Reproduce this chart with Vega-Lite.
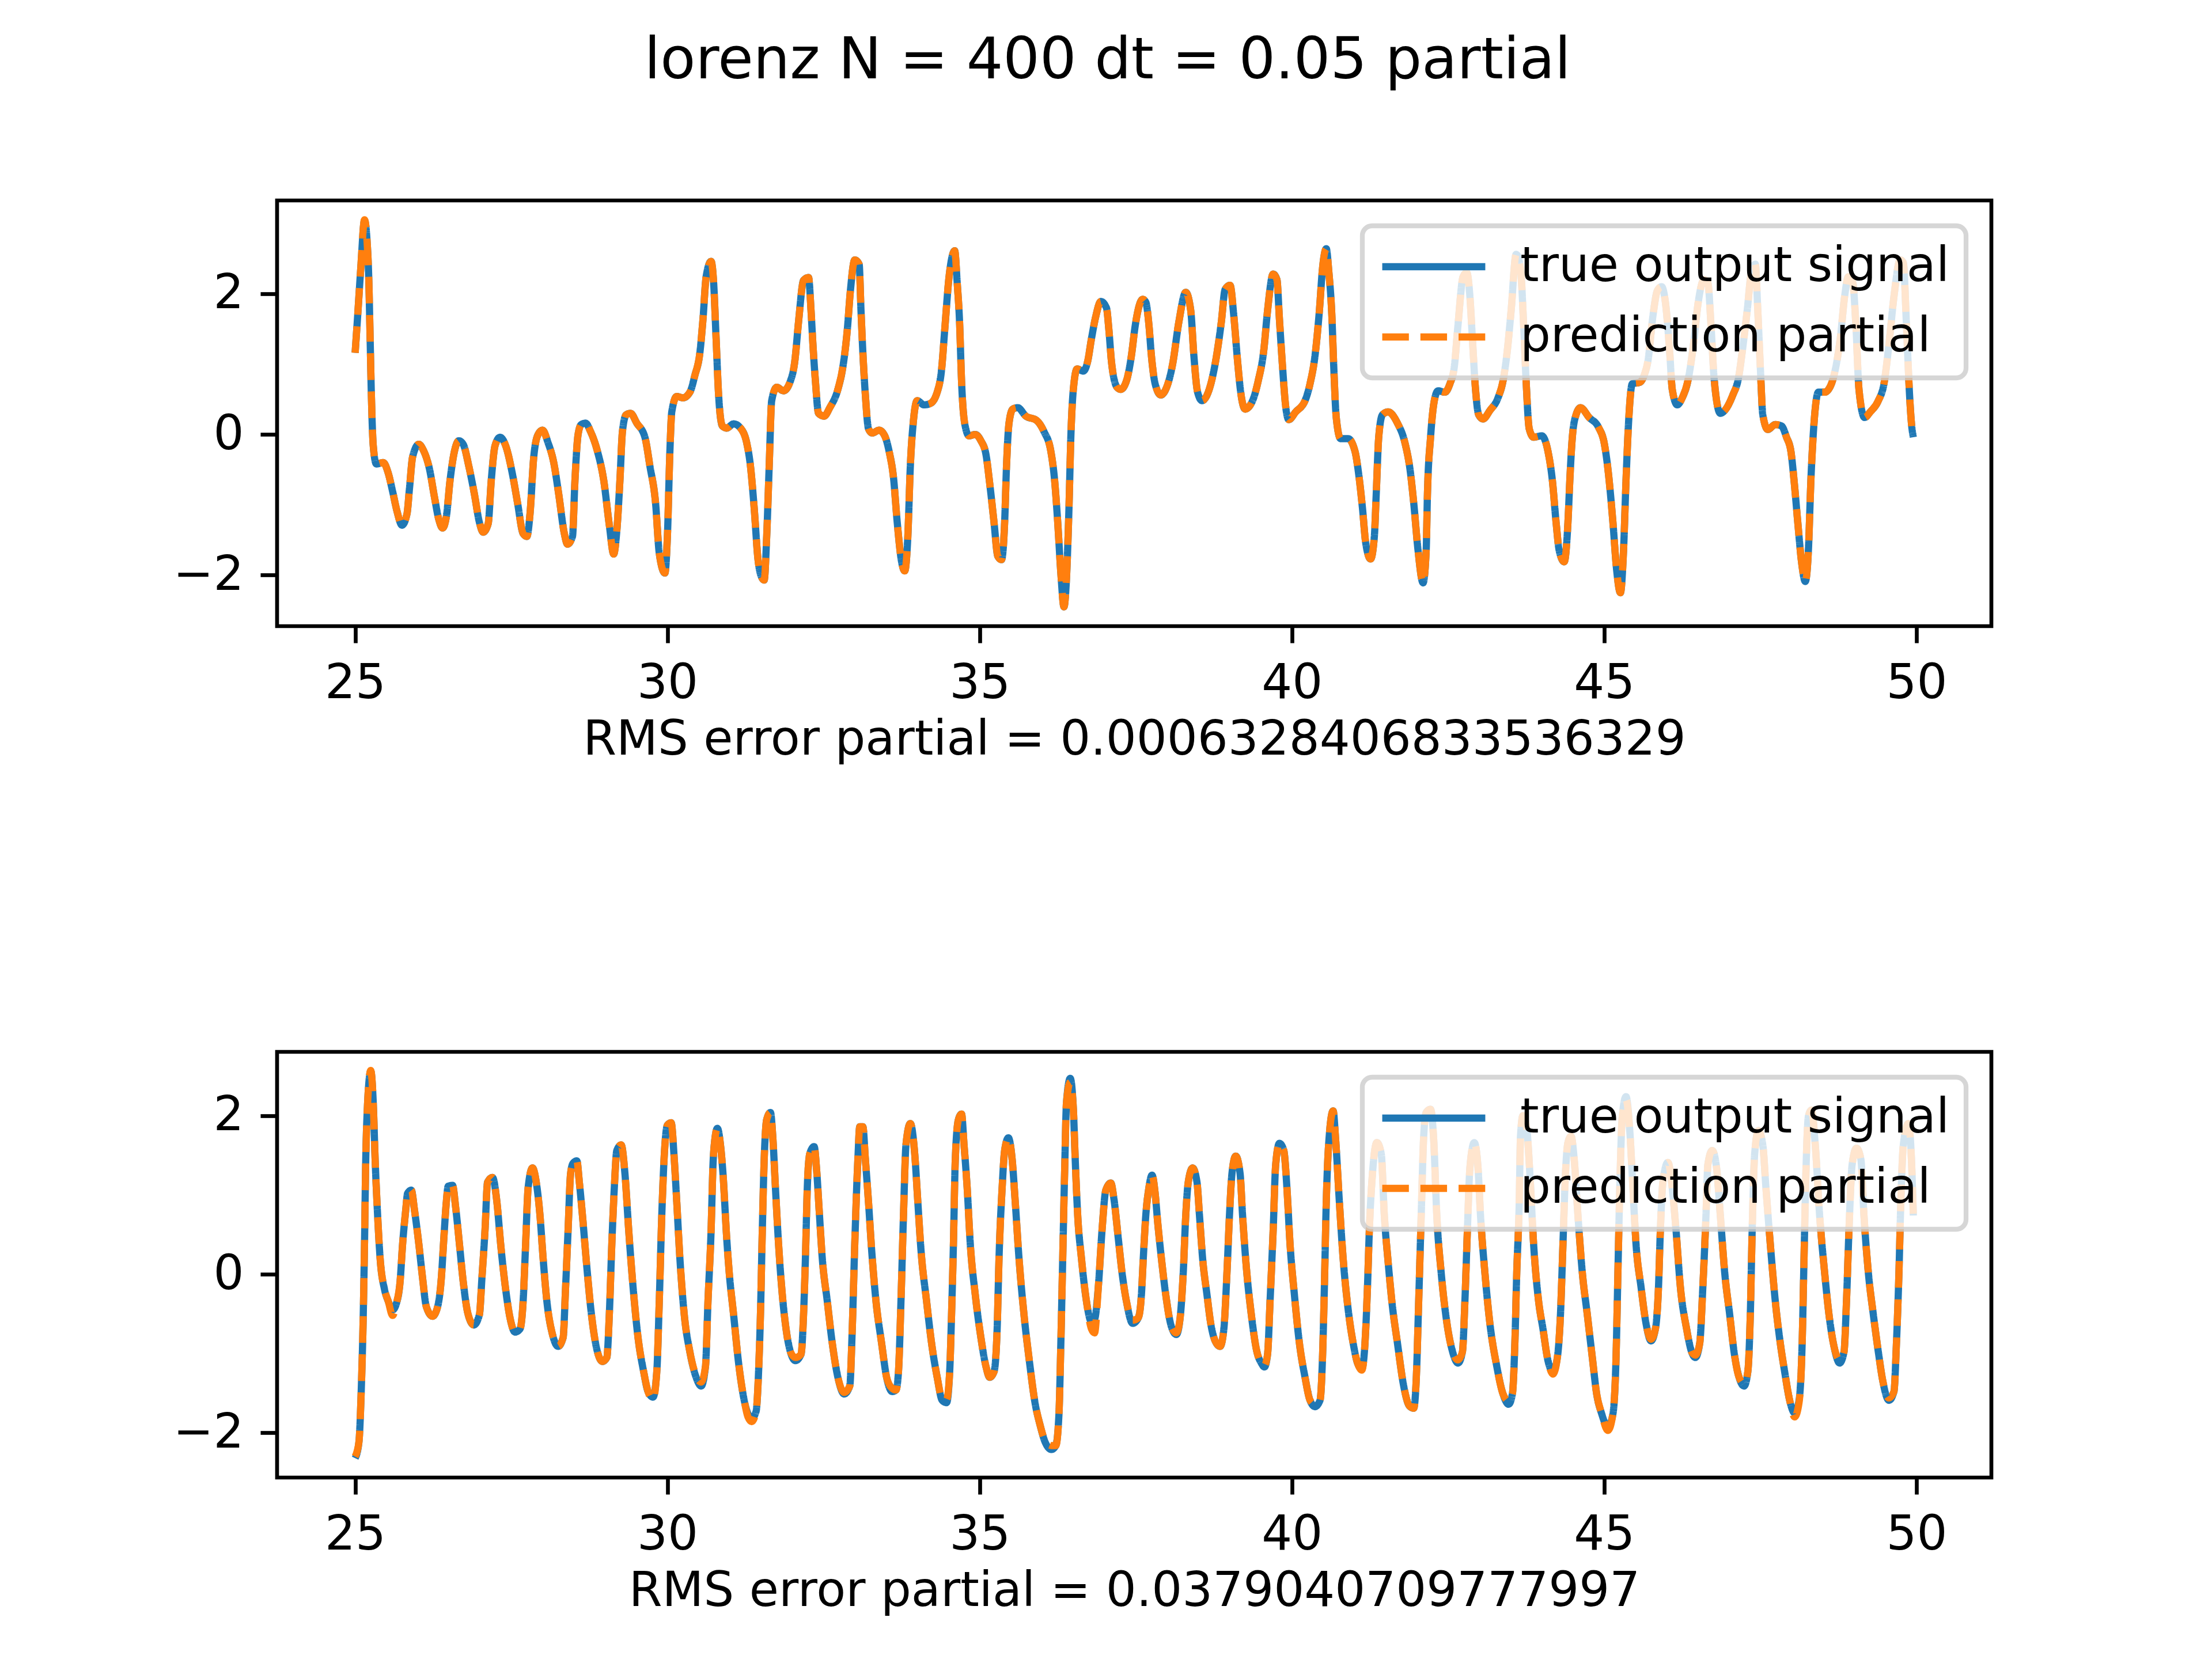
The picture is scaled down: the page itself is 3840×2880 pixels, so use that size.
{
  "$schema": "https://vega.github.io/schema/vega-lite/v6.json",
  "background": "white",
  "padding": {"left": 296, "top": 55, "right": 0, "bottom": 0},
  "title": {
    "text": "lorenz N = 400 dt = 0.05 partial",
    "font": "DejaVu Sans",
    "fontSize": 100,
    "fontWeight": "normal",
    "color": "black",
    "anchor": "middle",
    "offset": 188,
    "dx": 44
  },
  "datasets": {
    "top": [
      {"t":25.00,"a":1.16,"b":1.16},{"t":25.04,"a":1.68,"b":1.68},{"t":25.09,"a":2.36,"b":2.36},{"t":25.15,"a":3.04,"b":3.05},
      {"t":25.19,"a":2.76,"b":2.76},{"t":25.22,"a":2.16,"b":2.16},{"t":25.24,"a":1.36,"b":1.36},{"t":25.26,"a":0.56,"b":0.56},
      {"t":25.29,"a":-0.16,"b":-0.16},{"t":25.34,"a":-0.42,"b":-0.42},{"t":25.45,"a":-0.40,"b":-0.40},{"t":25.53,"a":-0.55,"b":-0.55},
      {"t":25.60,"a":-0.81,"b":-0.81},{"t":25.67,"a":-1.09,"b":-1.09},{"t":25.75,"a":-1.29,"b":-1.29},{"t":25.83,"a":-1.13,"b":-1.13},
      {"t":25.87,"a":-0.77,"b":-0.77},{"t":25.92,"a":-0.32,"b":-0.32},{"t":26.02,"a":-0.14,"b":-0.14},{"t":26.09,"a":-0.22,"b":-0.22},
      {"t":26.19,"a":-0.49,"b":-0.49},{"t":26.27,"a":-0.89,"b":-0.89},{"t":26.34,"a":-1.21,"b":-1.21},{"t":26.40,"a":-1.33,"b":-1.33},
      {"t":26.46,"a":-1.17,"b":-1.17},{"t":26.52,"a":-0.65,"b":-0.65},{"t":26.59,"a":-0.24,"b":-0.24},{"t":26.66,"a":-0.09,"b":-0.09},
      {"t":26.73,"a":-0.14,"b":-0.14},{"t":26.82,"a":-0.45,"b":-0.45},{"t":26.91,"a":-0.85,"b":-0.85},{"t":26.99,"a":-1.25,"b":-1.25},
      {"t":27.05,"a":-1.39,"b":-1.39},{"t":27.13,"a":-1.27,"b":-1.27},{"t":27.18,"a":-0.65,"b":-0.65},{"t":27.24,"a":-0.16,"b":-0.16},
      {"t":27.32,"a":-0.04,"b":-0.04},{"t":27.41,"a":-0.16,"b":-0.16},{"t":27.52,"a":-0.57,"b":-0.57},{"t":27.60,"a":-0.97,"b":-0.97},
      {"t":27.69,"a":-1.41,"b":-1.41},{"t":27.75,"a":-1.45,"b":-1.45},{"t":27.80,"a":-1.13,"b":-1.13},{"t":27.86,"a":-0.32,"b":-0.32},
      {"t":27.93,"a":0.00,"b":0.00},{"t":28.00,"a":0.06,"b":0.06},{"t":28.09,"a":-0.12,"b":-0.12},{"t":28.18,"a":-0.40,"b":-0.40},
      {"t":28.26,"a":-0.85,"b":-0.85},{"t":28.35,"a":-1.41,"b":-1.41},{"t":28.40,"a":-1.56,"b":-1.56},{"t":28.48,"a":-1.45,"b":-1.45},
      {"t":28.52,"a":-0.65,"b":-0.65},{"t":28.57,"a":0.00,"b":0.00},{"t":28.62,"a":0.14,"b":0.14},{"t":28.69,"a":0.16,"b":0.16},
      {"t":28.77,"a":0.04,"b":0.04},{"t":28.88,"a":-0.24,"b":-0.24},{"t":28.98,"a":-0.65,"b":-0.65},{"t":29.07,"a":-1.29,"b":-1.29},
      {"t":29.14,"a":-1.70,"b":-1.70},{"t":29.19,"a":-1.37,"b":-1.37},{"t":29.24,"a":-0.65,"b":-0.65},{"t":29.28,"a":0.04,"b":0.04},
      {"t":29.34,"a":0.28,"b":0.28},{"t":29.41,"a":0.30,"b":0.30},{"t":29.51,"a":0.16,"b":0.16},{"t":29.64,"a":-0.04,"b":-0.04},
      {"t":29.72,"a":-0.45,"b":-0.45},{"t":29.81,"a":-0.97,"b":-0.97},{"t":29.87,"a":-1.69,"b":-1.69},{"t":29.96,"a":-1.97,"b":-1.97},
      {"t":30.00,"a":-1.45,"b":-1.45},{"t":30.04,"a":-0.24,"b":-0.24},{"t":30.07,"a":0.32,"b":0.32},{"t":30.15,"a":0.54,"b":0.54},
      {"t":30.25,"a":0.52,"b":0.52},{"t":30.36,"a":0.60,"b":0.60},{"t":30.44,"a":0.84,"b":0.84},{"t":30.52,"a":1.16,"b":1.16},
      {"t":30.57,"a":1.64,"b":1.64},{"t":30.62,"a":2.24,"b":2.24},{"t":30.70,"a":2.46,"b":2.46},{"t":30.74,"a":2.16,"b":2.16},
      {"t":30.78,"a":1.36,"b":1.36},{"t":30.82,"a":0.56,"b":0.56},{"t":30.88,"a":0.12,"b":0.12},{"t":30.95,"a":0.09,"b":0.09},
      {"t":31.06,"a":0.15,"b":0.15},{"t":31.18,"a":0.08,"b":0.08},{"t":31.27,"a":-0.12,"b":-0.12},{"t":31.33,"a":-0.45,"b":-0.45},
      {"t":31.39,"a":-1.05,"b":-1.05},{"t":31.45,"a":-1.77,"b":-1.77},{"t":31.50,"a":-2.01,"b":-2.01},{"t":31.55,"a":-2.07,"b":-2.07},
      {"t":31.59,"a":-1.45,"b":-1.45},{"t":31.63,"a":-0.45,"b":-0.45},{"t":31.67,"a":0.48,"b":0.48},{"t":31.75,"a":0.67,"b":0.67},
      {"t":31.86,"a":0.62,"b":0.62},{"t":31.97,"a":0.76,"b":0.76},{"t":32.04,"a":1.04,"b":1.04},{"t":32.10,"a":1.60,"b":1.60},
      {"t":32.18,"a":2.19,"b":2.19},{"t":32.26,"a":2.23,"b":2.23},{"t":32.30,"a":1.76,"b":1.76},{"t":32.33,"a":1.28,"b":1.28},
      {"t":32.37,"a":0.76,"b":0.76},{"t":32.42,"a":0.30,"b":0.30},{"t":32.51,"a":0.26,"b":0.26},{"t":32.60,"a":0.38,"b":0.38},
      {"t":32.73,"a":0.64,"b":0.64},{"t":32.81,"a":0.96,"b":0.96},{"t":32.88,"a":1.48,"b":1.48},{"t":32.93,"a":2.04,"b":2.04},
      {"t":33.00,"a":2.48,"b":2.48},{"t":33.07,"a":2.42,"b":2.42},{"t":33.10,"a":1.76,"b":1.76},{"t":33.13,"a":1.16,"b":1.16},
      {"t":33.17,"a":0.56,"b":0.56},{"t":33.22,"a":0.08,"b":0.08},{"t":33.28,"a":0.02,"b":0.02},{"t":33.39,"a":0.06,"b":0.06},
      {"t":33.48,"a":-0.02,"b":-0.02},{"t":33.55,"a":-0.24,"b":-0.24},{"t":33.62,"a":-0.61,"b":-0.61},{"t":33.68,"a":-1.25,"b":-1.25},
      {"t":33.75,"a":-1.81,"b":-1.81},{"t":33.80,"a":-1.94,"b":-1.94},{"t":33.85,"a":-1.45,"b":-1.45},{"t":33.89,"a":-0.45,"b":-0.45},
      {"t":33.94,"a":0.20,"b":0.20},{"t":34.00,"a":0.48,"b":0.48},{"t":34.11,"a":0.42,"b":0.42},{"t":34.21,"a":0.44,"b":0.44},
      {"t":34.32,"a":0.60,"b":0.60},{"t":34.39,"a":0.92,"b":0.92},{"t":34.44,"a":1.48,"b":1.48},{"t":34.51,"a":2.24,"b":2.24},
      {"t":34.60,"a":2.61,"b":2.61},{"t":34.64,"a":2.16,"b":2.16},{"t":34.68,"a":1.56,"b":1.56},{"t":34.71,"a":0.76,"b":0.76},
      {"t":34.76,"a":0.16,"b":0.16},{"t":34.83,"a":-0.02,"b":-0.02},{"t":34.93,"a":0.00,"b":0.00},{"t":35.02,"a":-0.09,"b":-0.09},
      {"t":35.10,"a":-0.28,"b":-0.28},{"t":35.16,"a":-0.69,"b":-0.69},{"t":35.23,"a":-1.25,"b":-1.25},{"t":35.29,"a":-1.73,"b":-1.73},
      {"t":35.35,"a":-1.78,"b":-1.78},{"t":35.40,"a":-1.25,"b":-1.25},{"t":35.43,"a":-0.45,"b":-0.45},{"t":35.47,"a":0.16,"b":0.16},
      {"t":35.53,"a":0.36,"b":0.36},{"t":35.61,"a":0.38,"b":0.38},{"t":35.74,"a":0.26,"b":0.26},{"t":35.91,"a":0.20,"b":0.20},
      {"t":36.03,"a":0.04,"b":0.04},{"t":36.14,"a":-0.24,"b":-0.24},{"t":36.20,"a":-0.65,"b":-0.65},{"t":36.25,"a":-1.25,"b":-1.25},
      {"t":36.30,"a":-1.97,"b":-1.97},{"t":36.35,"a":-2.45,"b":-2.45},{"t":36.39,"a":-2.05,"b":-2.05},{"t":36.43,"a":-1.05,"b":-1.05},
      {"t":36.46,"a":-0.04,"b":-0.04},{"t":36.50,"a":0.64,"b":0.64},{"t":36.56,"a":0.93,"b":0.93},{"t":36.66,"a":0.90,"b":0.90},
      {"t":36.73,"a":1.04,"b":1.04},{"t":36.79,"a":1.36,"b":1.36},{"t":36.86,"a":1.68,"b":1.68},{"t":36.94,"a":1.89,"b":1.89},
      {"t":37.03,"a":1.80,"b":1.80},{"t":37.07,"a":1.48,"b":1.48},{"t":37.11,"a":1.04,"b":1.04},{"t":37.20,"a":0.67,"b":0.67},
      {"t":37.26,"a":0.64,"b":0.64},{"t":37.35,"a":0.76,"b":0.76},{"t":37.43,"a":1.12,"b":1.12},{"t":37.49,"a":1.54,"b":1.54},
      {"t":37.61,"a":1.92,"b":1.92},{"t":37.66,"a":1.88,"b":1.88},{"t":37.71,"a":1.56,"b":1.56},{"t":37.75,"a":1.12,"b":1.12},
      {"t":37.81,"a":0.72,"b":0.72},{"t":37.90,"a":0.56,"b":0.56},{"t":37.98,"a":0.64,"b":0.64},{"t":38.09,"a":1.00,"b":1.00},
      {"t":38.19,"a":1.60,"b":1.60},{"t":38.30,"a":2.02,"b":2.02},{"t":38.38,"a":1.76,"b":1.76},{"t":38.43,"a":1.12,"b":1.12},
      {"t":38.49,"a":0.60,"b":0.60},{"t":38.56,"a":0.48,"b":0.48},{"t":38.66,"a":0.60,"b":0.60},{"t":38.77,"a":1.00,"b":1.00},
      {"t":38.87,"a":1.60,"b":1.60},{"t":38.93,"a":2.06,"b":2.06},{"t":39.01,"a":2.12,"b":2.12},{"t":39.07,"a":1.68,"b":1.68},
      {"t":39.13,"a":1.04,"b":1.04},{"t":39.18,"a":0.60,"b":0.60},{"t":39.25,"a":0.36,"b":0.36},{"t":39.36,"a":0.46,"b":0.46},
      {"t":39.46,"a":0.76,"b":0.76},{"t":39.55,"a":1.20,"b":1.20},{"t":39.61,"a":1.76,"b":1.76},{"t":39.70,"a":2.28,"b":2.28},
      {"t":39.76,"a":2.20,"b":2.20},{"t":39.80,"a":1.64,"b":1.64},{"t":39.85,"a":0.96,"b":0.96},{"t":39.90,"a":0.40,"b":0.40},
      {"t":39.95,"a":0.21,"b":0.21},{"t":40.06,"a":0.32,"b":0.32},{"t":40.21,"a":0.48,"b":0.48},{"t":40.29,"a":0.72,"b":0.72},
      {"t":40.37,"a":1.12,"b":1.12},{"t":40.44,"a":1.76,"b":1.76},{"t":40.49,"a":2.36,"b":2.36},{"t":40.55,"a":2.64,"b":2.64},
      {"t":40.59,"a":2.32,"b":2.32},{"t":40.64,"a":1.68,"b":1.68},{"t":40.67,"a":0.96,"b":0.96},{"t":40.71,"a":0.24,"b":0.24},
      {"t":40.78,"a":-0.06,"b":-0.06},{"t":40.90,"a":-0.06,"b":-0.06},{"t":41.01,"a":-0.24,"b":-0.24},{"t":41.07,"a":-0.57,"b":-0.57},
      {"t":41.13,"a":-1.05,"b":-1.05},{"t":41.18,"a":-1.53,"b":-1.53},{"t":41.26,"a":-1.77,"b":-1.77},{"t":41.32,"a":-1.45,"b":-1.45},
      {"t":41.35,"a":-0.85,"b":-0.85},{"t":41.39,"a":-0.04,"b":-0.04},{"t":41.45,"a":0.28,"b":0.28},{"t":41.54,"a":0.32,"b":0.32},
      {"t":41.69,"a":0.16,"b":0.16},{"t":41.81,"a":-0.12,"b":-0.12},{"t":41.89,"a":-0.49,"b":-0.49},{"t":41.95,"a":-0.97,"b":-0.97},
      {"t":42.02,"a":-1.65,"b":-1.65},{"t":42.10,"a":-2.11,"b":-2.11},{"t":42.15,"a":-1.65,"b":-1.65},{"t":42.17,"a":-0.85,"b":-0.85},
      {"t":42.22,"a":-0.04,"b":-0.04},{"t":42.28,"a":0.48,"b":0.48},{"t":42.34,"a":0.62,"b":0.62},{"t":42.45,"a":0.60,"b":0.60},
      {"t":42.53,"a":0.72,"b":0.72},{"t":42.60,"a":0.96,"b":0.96},{"t":42.66,"a":1.56,"b":1.56},{"t":42.74,"a":2.24,"b":2.24},
      {"t":42.80,"a":2.30,"b":2.30},{"t":42.85,"a":1.96,"b":1.96},{"t":42.89,"a":1.36,"b":1.36},{"t":42.94,"a":0.64,"b":0.64},
      {"t":42.99,"a":0.28,"b":0.28},{"t":43.06,"a":0.22,"b":0.22},{"t":43.17,"a":0.34,"b":0.34},{"t":43.30,"a":0.52,"b":0.52},
      {"t":43.38,"a":0.76,"b":0.76},{"t":43.45,"a":1.20,"b":1.20},{"t":43.51,"a":1.76,"b":1.76},{"t":43.59,"a":2.56,"b":2.56},
      {"t":43.66,"a":2.36,"b":2.36},{"t":43.71,"a":1.56,"b":1.56},{"t":43.75,"a":0.76,"b":0.76},{"t":43.80,"a":0.08,"b":0.08},
      {"t":43.87,"a":-0.04,"b":-0.04},{"t":44.00,"a":-0.02,"b":-0.02},{"t":44.10,"a":-0.24,"b":-0.24},{"t":44.17,"a":-0.65,"b":-0.65},
      {"t":44.23,"a":-1.25,"b":-1.25},{"t":44.28,"a":-1.65,"b":-1.65},{"t":44.36,"a":-1.81,"b":-1.81},{"t":44.42,"a":-1.25,"b":-1.25},
      {"t":44.45,"a":-0.65,"b":-0.65},{"t":44.49,"a":-0.04,"b":-0.04},{"t":44.55,"a":0.28,"b":0.28},{"t":44.62,"a":0.38,"b":0.38},
      {"t":44.76,"a":0.24,"b":0.24},{"t":44.91,"a":0.10,"b":0.10},{"t":45.00,"a":-0.12,"b":-0.12},{"t":45.07,"a":-0.57,"b":-0.57},
      {"t":45.14,"a":-1.25,"b":-1.25},{"t":45.20,"a":-1.93,"b":-1.93},{"t":45.26,"a":-2.25,"b":-2.25},{"t":45.31,"a":-1.65,"b":-1.65},
      {"t":45.35,"a":-0.65,"b":-0.65},{"t":45.39,"a":0.16,"b":0.16},{"t":45.45,"a":0.72,"b":0.72},{"t":45.57,"a":0.74,"b":0.74},
      {"t":45.64,"a":0.84,"b":0.84},{"t":45.70,"a":1.04,"b":1.04},{"t":45.78,"a":1.68,"b":1.68},{"t":45.85,"a":2.04,"b":2.04},
      {"t":45.92,"a":2.10,"b":2.10},{"t":45.98,"a":1.88,"b":1.88},{"t":46.05,"a":1.16,"b":1.16},{"t":46.09,"a":0.64,"b":0.64},
      {"t":46.17,"a":0.42,"b":0.42},{"t":46.25,"a":0.52,"b":0.52},{"t":46.34,"a":0.76,"b":0.76},{"t":46.43,"a":1.28,"b":1.28},
      {"t":46.50,"a":1.84,"b":1.84},{"t":46.60,"a":2.20,"b":2.20},{"t":46.66,"a":2.16,"b":2.16},{"t":46.71,"a":1.56,"b":1.56},
      {"t":46.76,"a":0.80,"b":0.80},{"t":46.86,"a":0.30,"b":0.30},{"t":46.93,"a":0.34,"b":0.34},{"t":47.06,"a":0.56,"b":0.56},
      {"t":47.15,"a":0.80,"b":0.80},{"t":47.22,"a":1.24,"b":1.24},{"t":47.29,"a":1.76,"b":1.76},{"t":47.36,"a":2.32,"b":2.32},
      {"t":47.42,"a":2.42,"b":2.42},{"t":47.46,"a":1.76,"b":1.76},{"t":47.50,"a":0.96,"b":0.96},{"t":47.54,"a":0.28,"b":0.28},
      {"t":47.62,"a":0.07,"b":0.07},{"t":47.74,"a":0.14,"b":0.14},{"t":47.84,"a":0.12,"b":0.12},{"t":47.92,"a":-0.04,"b":-0.04},
      {"t":47.99,"a":-0.24,"b":-0.24},{"t":48.04,"a":-0.65,"b":-0.65},{"t":48.10,"a":-1.25,"b":-1.25},{"t":48.16,"a":-1.81,"b":-1.81},
      {"t":48.22,"a":-2.09,"b":-2.09},{"t":48.27,"a":-1.65,"b":-1.65},{"t":48.31,"a":-0.65,"b":-0.65},{"t":48.36,"a":0.16,"b":0.16},
      {"t":48.43,"a":0.60,"b":0.60},{"t":48.53,"a":0.60,"b":0.60},{"t":48.63,"a":0.70,"b":0.70},{"t":48.70,"a":0.92,"b":0.92},
      {"t":48.78,"a":1.36,"b":1.36},{"t":48.85,"a":1.96,"b":1.96},{"t":48.91,"a":2.24,"b":2.24},{"t":48.98,"a":2.16,"b":2.16},
      {"t":49.03,"a":1.56,"b":1.56},{"t":49.08,"a":0.64,"b":0.64},{"t":49.17,"a":0.24,"b":0.24},{"t":49.26,"a":0.32,"b":0.32},
      {"t":49.39,"a":0.48,"b":0.48},{"t":49.48,"a":0.72,"b":0.72},{"t":49.56,"a":1.28,"b":1.28},{"t":49.64,"a":1.96,"b":1.96},
      {"t":49.74,"a":2.48,"b":2.48},{"t":49.79,"a":2.44,"b":2.44},{"t":49.84,"a":1.56,"b":1.56},{"t":49.89,"a":0.56,"b":0.56},
      {"t":49.92,"a":0.16,"b":0.16},{"t":49.95,"a":-0.04,"b":-0.04}
    ],
    "bottom": [
      {"t":25.00,"a":-2.32,"b":-2.30},{"t":25.06,"a":-2.12,"b":-2.12},{"t":25.10,"a":-1.41,"b":-1.41},{"t":25.13,"a":-0.51,"b":-0.51},
      {"t":25.15,"a":0.38,"b":0.38},{"t":25.17,"a":1.45,"b":1.45},{"t":25.19,"a":1.99,"b":1.99},{"t":25.25,"a":2.56,"b":2.57},
      {"t":25.29,"a":2.16,"b":2.16},{"t":25.32,"a":1.45,"b":1.45},{"t":25.36,"a":0.74,"b":0.74},{"t":25.40,"a":0.20,"b":0.20},
      {"t":25.47,"a":-0.19,"b":-0.19},{"t":25.53,"a":-0.34,"b":-0.34},{"t":25.60,"a":-0.45,"b":-0.52},{"t":25.66,"a":-0.37,"b":-0.37},
      {"t":25.72,"a":-0.09,"b":-0.09},{"t":25.76,"a":0.38,"b":0.38},{"t":25.81,"a":0.81,"b":0.81},{"t":25.84,"a":1.02,"b":1.02},
      {"t":25.90,"a":1.06,"b":1.06},{"t":25.95,"a":0.81,"b":0.81},{"t":26.02,"a":0.38,"b":0.38},{"t":26.08,"a":-0.05,"b":-0.05},
      {"t":26.14,"a":-0.41,"b":-0.41},{"t":26.24,"a":-0.53,"b":-0.53},{"t":26.31,"a":-0.44,"b":-0.44},{"t":26.38,"a":-0.05,"b":-0.05},
      {"t":26.42,"a":0.45,"b":0.45},{"t":26.46,"a":0.91,"b":0.91},{"t":26.49,"a":1.11,"b":1.11},{"t":26.56,"a":1.12,"b":1.12},
      {"t":26.61,"a":0.84,"b":0.84},{"t":26.67,"a":0.38,"b":0.38},{"t":26.73,"a":-0.09,"b":-0.09},{"t":26.81,"a":-0.51,"b":-0.51},
      {"t":26.90,"a":-0.64,"b":-0.64},{"t":26.99,"a":-0.51,"b":-0.51},{"t":27.03,"a":-0.05,"b":-0.05},{"t":27.08,"a":0.56,"b":0.56},
      {"t":27.12,"a":1.16,"b":1.16},{"t":27.20,"a":1.22,"b":1.22},{"t":27.27,"a":0.91,"b":0.91},{"t":27.33,"a":0.38,"b":0.38},
      {"t":27.41,"a":-0.19,"b":-0.19},{"t":27.48,"a":-0.55,"b":-0.55},{"t":27.56,"a":-0.73,"b":-0.73},{"t":27.64,"a":-0.69,"b":-0.69},
      {"t":27.69,"a":-0.34,"b":-0.34},{"t":27.73,"a":0.38,"b":0.38},{"t":27.77,"a":1.09,"b":1.09},{"t":27.84,"a":1.34,"b":1.34},
      {"t":27.90,"a":1.16,"b":1.16},{"t":27.96,"a":0.74,"b":0.74},{"t":28.01,"a":0.20,"b":0.20},{"t":28.07,"a":-0.34,"b":-0.34},
      {"t":28.16,"a":-0.76,"b":-0.76},{"t":28.25,"a":-0.91,"b":-0.91},{"t":28.33,"a":-0.80,"b":-0.80},{"t":28.37,"a":-0.16,"b":-0.16},
      {"t":28.41,"a":0.56,"b":0.56},{"t":28.45,"a":1.27,"b":1.27},{"t":28.49,"a":1.40,"b":1.40},{"t":28.55,"a":1.43,"b":1.43},
      {"t":28.59,"a":1.16,"b":1.16},{"t":28.64,"a":0.74,"b":0.74},{"t":28.71,"a":0.09,"b":0.09},{"t":28.77,"a":-0.41,"b":-0.41},
      {"t":28.85,"a":-0.87,"b":-0.87},{"t":28.96,"a":-1.10,"b":-1.10},{"t":29.03,"a":-1.05,"b":-1.05},{"t":29.07,"a":-0.51,"b":-0.51},
      {"t":29.11,"a":0.38,"b":0.38},{"t":29.15,"a":1.09,"b":1.09},{"t":29.19,"a":1.56,"b":1.56},{"t":29.26,"a":1.63,"b":1.63},
      {"t":29.32,"a":1.27,"b":1.27},{"t":29.38,"a":0.56,"b":0.56},{"t":29.45,"a":-0.16,"b":-0.16},{"t":29.53,"a":-0.80,"b":-0.80},
      {"t":29.62,"a":-1.23,"b":-1.23},{"t":29.69,"a":-1.48,"b":-1.48},{"t":29.77,"a":-1.55,"b":-1.58},{"t":29.83,"a":-1.23,"b":-1.23},
      {"t":29.87,"a":-0.34,"b":-0.34},{"t":29.91,"a":0.74,"b":0.74},{"t":29.96,"a":1.63,"b":1.63},{"t":30.00,"a":1.88,"b":1.88},
      {"t":30.06,"a":1.91,"b":1.91},{"t":30.11,"a":1.45,"b":1.45},{"t":30.15,"a":0.91,"b":0.91},{"t":30.20,"a":0.20,"b":0.20},
      {"t":30.27,"a":-0.51,"b":-0.51},{"t":30.36,"a":-0.98,"b":-0.98},{"t":30.46,"a":-1.30,"b":-1.28},{"t":30.54,"a":-1.41,"b":-1.36},
      {"t":30.61,"a":-1.16,"b":-1.16},{"t":30.65,"a":-0.34,"b":-0.34},{"t":30.70,"a":0.56,"b":0.56},{"t":30.73,"a":1.38,"b":1.38},
      {"t":30.76,"a":1.70,"b":1.70},{"t":30.80,"a":1.84,"b":1.84},{"t":30.85,"a":1.63,"b":1.63},{"t":30.89,"a":1.27,"b":1.27},
      {"t":30.95,"a":0.45,"b":0.45},{"t":30.99,"a":0.02,"b":0.02},{"t":31.06,"a":-0.51,"b":-0.51},{"t":31.14,"a":-1.12,"b":-1.12},
      {"t":31.23,"a":-1.59,"b":-1.59},{"t":31.29,"a":-1.76,"b":-1.80},{"t":31.35,"a":-1.82,"b":-1.86},{"t":31.42,"a":-1.73,"b":-1.73},
      {"t":31.46,"a":-1.23,"b":-1.23},{"t":31.49,"a":-0.51,"b":-0.51},{"t":31.52,"a":0.56,"b":0.56},{"t":31.55,"a":1.45,"b":1.45},
      {"t":31.59,"a":1.95,"b":1.95},{"t":31.65,"a":2.04,"b":2.04},{"t":31.69,"a":1.70,"b":1.70},{"t":31.73,"a":1.09,"b":1.09},
      {"t":31.78,"a":0.38,"b":0.38},{"t":31.84,"a":-0.26,"b":-0.26},{"t":31.90,"a":-0.69,"b":-0.69},{"t":31.97,"a":-0.98,"b":-0.98},
      {"t":32.05,"a":-1.09,"b":-1.05},{"t":32.14,"a":-1.01,"b":-1.01},{"t":32.18,"a":-0.51,"b":-0.51},{"t":32.21,"a":0.20,"b":0.20},
      {"t":32.24,"a":1.09,"b":1.09},{"t":32.28,"a":1.52,"b":1.52},{"t":32.35,"a":1.61,"b":1.61},{"t":32.39,"a":1.31,"b":1.31},
      {"t":32.43,"a":0.81,"b":0.81},{"t":32.48,"a":0.20,"b":0.20},{"t":32.56,"a":-0.34,"b":-0.34},{"t":32.64,"a":-0.87,"b":-0.87},
      {"t":32.73,"a":-1.30,"b":-1.30},{"t":32.83,"a":-1.51,"b":-1.49},{"t":32.92,"a":-1.41,"b":-1.41},{"t":32.96,"a":-0.69,"b":-0.69},
      {"t":33.00,"a":0.38,"b":0.38},{"t":33.05,"a":1.45,"b":1.45},{"t":33.08,"a":1.86,"b":1.86},{"t":33.13,"a":1.86,"b":1.86},
      {"t":33.17,"a":1.45,"b":1.45},{"t":33.22,"a":0.91,"b":0.91},{"t":33.27,"a":0.31,"b":0.31},{"t":33.34,"a":-0.34,"b":-0.34},
      {"t":33.43,"a":-0.87,"b":-0.87},{"t":33.51,"a":-1.30,"b":-1.30},{"t":33.60,"a":-1.48,"b":-1.44},{"t":33.66,"a":-1.46,"b":-1.46},
      {"t":33.70,"a":-1.23,"b":-1.23},{"t":33.74,"a":-0.34,"b":-0.34},{"t":33.78,"a":0.74,"b":0.74},{"t":33.82,"a":1.63,"b":1.63},
      {"t":33.89,"a":1.90,"b":1.90},{"t":33.96,"a":1.52,"b":1.52},{"t":34.01,"a":0.91,"b":0.91},{"t":34.06,"a":0.31,"b":0.31},
      {"t":34.15,"a":-0.34,"b":-0.34},{"t":34.23,"a":-0.87,"b":-0.87},{"t":34.32,"a":-1.30,"b":-1.30},{"t":34.40,"a":-1.59,"b":-1.57},
      {"t":34.47,"a":-1.62,"b":-1.58},{"t":34.52,"a":-1.23,"b":-1.23},{"t":34.55,"a":-0.51,"b":-0.51},{"t":34.58,"a":0.38,"b":0.38},
      {"t":34.61,"a":1.45,"b":1.45},{"t":34.66,"a":1.95,"b":1.95},{"t":34.71,"a":2.02,"b":2.02},{"t":34.75,"a":1.63,"b":1.63},
      {"t":34.80,"a":1.09,"b":1.09},{"t":34.85,"a":0.38,"b":0.38},{"t":34.93,"a":-0.26,"b":-0.26},{"t":35.02,"a":-0.80,"b":-0.80},
      {"t":35.10,"a":-1.16,"b":-1.16},{"t":35.16,"a":-1.30,"b":-1.30},{"t":35.23,"a":-1.23,"b":-1.23},{"t":35.28,"a":-0.69,"b":-0.69},
      {"t":35.31,"a":0.20,"b":0.20},{"t":35.36,"a":1.09,"b":1.09},{"t":35.40,"a":1.56,"b":1.56},{"t":35.46,"a":1.72,"b":1.72},
      {"t":35.52,"a":1.45,"b":1.45},{"t":35.57,"a":0.91,"b":0.91},{"t":35.63,"a":0.20,"b":0.20},{"t":35.71,"a":-0.51,"b":-0.51},
      {"t":35.80,"a":-1.12,"b":-1.12},{"t":35.88,"a":-1.59,"b":-1.59},{"t":35.97,"a":-1.91,"b":-1.91},{"t":36.05,"a":-2.12,"b":-2.10},
      {"t":36.15,"a":-2.21,"b":-2.16},{"t":36.22,"a":-2.16,"b":-2.16},{"t":36.27,"a":-1.76,"b":-1.76},{"t":36.30,"a":-0.87,"b":-0.87},
      {"t":36.33,"a":0.20,"b":0.20},{"t":36.36,"a":1.27,"b":1.27},{"t":36.39,"a":2.16,"b":2.16},{"t":36.45,"a":2.47,"b":2.42},
      {"t":36.50,"a":2.09,"b":2.09},{"t":36.53,"a":1.45,"b":1.45},{"t":36.57,"a":0.74,"b":0.74},{"t":36.63,"a":0.20,"b":0.20},
      {"t":36.71,"a":-0.34,"b":-0.34},{"t":36.79,"a":-0.60,"b":-0.69},{"t":36.84,"a":-0.57,"b":-0.74},{"t":36.90,"a":-0.16,"b":-0.16},
      {"t":36.96,"a":0.56,"b":0.56},{"t":37.02,"a":1.06,"b":1.06},{"t":37.10,"a":1.15,"b":1.15},{"t":37.15,"a":0.95,"b":0.95},
      {"t":37.22,"a":0.45,"b":0.45},{"t":37.28,"a":0.02,"b":0.02},{"t":37.35,"a":-0.34,"b":-0.34},{"t":37.45,"a":-0.62,"b":-0.58},
      {"t":37.54,"a":-0.55,"b":-0.55},{"t":37.59,"a":-0.26,"b":-0.26},{"t":37.62,"a":0.20,"b":0.20},{"t":37.66,"a":0.74,"b":0.74},
      {"t":37.71,"a":1.09,"b":1.09},{"t":37.76,"a":1.25,"b":1.25},{"t":37.81,"a":1.02,"b":1.02},{"t":37.85,"a":0.66,"b":0.66},
      {"t":37.91,"a":0.20,"b":0.20},{"t":37.98,"a":-0.26,"b":-0.26},{"t":38.07,"a":-0.66,"b":-0.66},{"t":38.15,"a":-0.76,"b":-0.74},
      {"t":38.21,"a":-0.55,"b":-0.55},{"t":38.26,"a":0.02,"b":0.02},{"t":38.30,"a":0.74,"b":0.74},{"t":38.34,"a":1.16,"b":1.16},
      {"t":38.41,"a":1.34,"b":1.34},{"t":38.48,"a":1.16,"b":1.16},{"t":38.52,"a":0.74,"b":0.74},{"t":38.57,"a":0.20,"b":0.20},
      {"t":38.64,"a":-0.26,"b":-0.26},{"t":38.70,"a":-0.62,"b":-0.62},{"t":38.77,"a":-0.84,"b":-0.84},{"t":38.85,"a":-0.91,"b":-0.91},
      {"t":38.91,"a":-0.69,"b":-0.69},{"t":38.96,"a":0.02,"b":0.02},{"t":39.00,"a":0.74,"b":0.74},{"t":39.04,"a":1.27,"b":1.27},
      {"t":39.10,"a":1.49,"b":1.49},{"t":39.17,"a":1.27,"b":1.27},{"t":39.21,"a":0.74,"b":0.74},{"t":39.27,"a":0.09,"b":0.09},
      {"t":39.35,"a":-0.51,"b":-0.51},{"t":39.44,"a":-0.98,"b":-0.98},{"t":39.51,"a":-1.12,"b":-1.12},{"t":39.56,"a":-1.17,"b":-1.15},
      {"t":39.61,"a":-1.01,"b":-1.01},{"t":39.65,"a":-0.34,"b":-0.34},{"t":39.70,"a":0.56,"b":0.56},{"t":39.74,"a":1.38,"b":1.38},
      {"t":39.80,"a":1.65,"b":1.65},{"t":39.87,"a":1.56,"b":1.56},{"t":39.92,"a":1.09,"b":1.09},{"t":39.97,"a":0.38,"b":0.38},
      {"t":40.04,"a":-0.26,"b":-0.26},{"t":40.12,"a":-0.87,"b":-0.87},{"t":40.21,"a":-1.30,"b":-1.30},{"t":40.29,"a":-1.59,"b":-1.59},
      {"t":40.37,"a":-1.67,"b":-1.64},{"t":40.45,"a":-1.59,"b":-1.59},{"t":40.49,"a":-1.05,"b":-1.05},{"t":40.52,"a":-0.16,"b":-0.16},
      {"t":40.55,"a":0.91,"b":0.91},{"t":40.59,"a":1.66,"b":1.66},{"t":40.66,"a":2.06,"b":2.06},{"t":40.70,"a":1.70,"b":1.70},
      {"t":40.76,"a":0.91,"b":0.91},{"t":40.82,"a":0.20,"b":0.20},{"t":40.90,"a":-0.44,"b":-0.44},{"t":40.99,"a":-0.91,"b":-0.91},
      {"t":41.05,"a":-1.12,"b":-1.12},{"t":41.12,"a":-1.19,"b":-1.21},{"t":41.17,"a":-0.87,"b":-0.87},{"t":41.21,"a":-0.16,"b":-0.16},
      {"t":41.24,"a":0.56,"b":0.56},{"t":41.29,"a":1.27,"b":1.27},{"t":41.36,"a":1.66,"b":1.66},{"t":41.43,"a":1.52,"b":1.52},
      {"t":41.48,"a":0.74,"b":0.74},{"t":41.54,"a":0.16,"b":0.16},{"t":41.60,"a":-0.34,"b":-0.34},{"t":41.69,"a":-0.87,"b":-0.87},
      {"t":41.79,"a":-1.41,"b":-1.41},{"t":41.88,"a":-1.66,"b":-1.66},{"t":41.95,"a":-1.69,"b":-1.69},{"t":41.99,"a":-1.34,"b":-1.34},
      {"t":42.03,"a":-0.34,"b":-0.34},{"t":42.07,"a":0.74,"b":0.74},{"t":42.11,"a":1.74,"b":1.74},{"t":42.15,"a":2.04,"b":2.04},
      {"t":42.22,"a":2.08,"b":2.08},{"t":42.27,"a":1.70,"b":1.70},{"t":42.32,"a":0.74,"b":0.74},{"t":42.39,"a":0.02,"b":0.02},
      {"t":42.47,"a":-0.55,"b":-0.55},{"t":42.56,"a":-0.94,"b":-0.94},{"t":42.66,"a":-1.12,"b":-1.08},{"t":42.73,"a":-0.98,"b":-0.98},
      {"t":42.77,"a":-0.34,"b":-0.34},{"t":42.81,"a":0.56,"b":0.56},{"t":42.85,"a":1.34,"b":1.34},{"t":42.92,"a":1.66,"b":1.66},
      {"t":42.98,"a":1.34,"b":1.34},{"t":43.02,"a":0.74,"b":0.74},{"t":43.09,"a":0.02,"b":0.02},{"t":43.17,"a":-0.62,"b":-0.62},
      {"t":43.28,"a":-1.16,"b":-1.16},{"t":43.38,"a":-1.51,"b":-1.51},{"t":43.47,"a":-1.64,"b":-1.60},{"t":43.53,"a":-1.51,"b":-1.51},
      {"t":43.57,"a":-0.87,"b":-0.87},{"t":43.60,"a":0.02,"b":0.02},{"t":43.64,"a":0.91,"b":0.91},{"t":43.66,"a":1.74,"b":1.74},
      {"t":43.70,"a":2.00,"b":2.00},{"t":43.76,"a":1.84,"b":1.84},{"t":43.81,"a":1.27,"b":1.27},{"t":43.87,"a":0.38,"b":0.38},
      {"t":43.95,"a":-0.34,"b":-0.34},{"t":44.02,"a":-0.69,"b":-0.69},{"t":44.10,"a":-1.09,"b":-1.09},{"t":44.18,"a":-1.23,"b":-1.26},
      {"t":44.25,"a":-1.05,"b":-1.05},{"t":44.30,"a":-0.51,"b":-0.51},{"t":44.34,"a":0.38,"b":0.38},{"t":44.38,"a":1.27,"b":1.27},
      {"t":44.42,"a":1.66,"b":1.66},{"t":44.47,"a":1.74,"b":1.74},{"t":44.52,"a":1.45,"b":1.45},{"t":44.58,"a":0.74,"b":0.74},
      {"t":44.65,"a":0.02,"b":0.02},{"t":44.73,"a":-0.51,"b":-0.51},{"t":44.81,"a":-1.05,"b":-1.05},{"t":44.88,"a":-1.51,"b":-1.51},
      {"t":44.96,"a":-1.76,"b":-1.76},{"t":45.06,"a":-1.93,"b":-1.97},{"t":45.14,"a":-1.76,"b":-1.76},{"t":45.19,"a":-1.05,"b":-1.05},
      {"t":45.22,"a":0.02,"b":0.02},{"t":45.25,"a":1.09,"b":1.09},{"t":45.29,"a":1.99,"b":1.99},{"t":45.35,"a":2.24,"b":2.20},
      {"t":45.41,"a":1.81,"b":1.81},{"t":45.46,"a":1.09,"b":1.09},{"t":45.51,"a":0.38,"b":0.38},{"t":45.59,"a":-0.16,"b":-0.16},
      {"t":45.67,"a":-0.62,"b":-0.62},{"t":45.75,"a":-0.84,"b":-0.82},{"t":45.82,"a":-0.69,"b":-0.69},{"t":45.87,"a":-0.16,"b":-0.16},
      {"t":45.90,"a":0.56,"b":0.56},{"t":45.94,"a":1.16,"b":1.16},{"t":46.02,"a":1.41,"b":1.41},{"t":46.09,"a":1.09,"b":1.09},
      {"t":46.15,"a":0.56,"b":0.56},{"t":46.22,"a":-0.16,"b":-0.16},{"t":46.32,"a":-0.69,"b":-0.69},{"t":46.40,"a":-0.98,"b":-0.98},
      {"t":46.46,"a":-1.05,"b":-1.02},{"t":46.53,"a":-0.87,"b":-0.87},{"t":46.58,"a":-0.16,"b":-0.16},{"t":46.63,"a":0.74,"b":0.74},
      {"t":46.66,"a":1.38,"b":1.38},{"t":46.73,"a":1.56,"b":1.56},{"t":46.80,"a":1.34,"b":1.34},{"t":46.86,"a":0.74,"b":0.74},
      {"t":46.93,"a":0.02,"b":0.02},{"t":47.01,"a":-0.51,"b":-0.51},{"t":47.08,"a":-0.98,"b":-0.98},{"t":47.16,"a":-1.30,"b":-1.30},
      {"t":47.24,"a":-1.41,"b":-1.38},{"t":47.30,"a":-1.23,"b":-1.23},{"t":47.34,"a":-0.51,"b":-0.51},{"t":47.37,"a":0.56,"b":0.56},
      {"t":47.41,"a":1.52,"b":1.52},{"t":47.47,"a":1.81,"b":1.81},{"t":47.54,"a":1.63,"b":1.63},{"t":47.59,"a":1.09,"b":1.09},
      {"t":47.66,"a":0.38,"b":0.38},{"t":47.74,"a":-0.34,"b":-0.34},{"t":47.82,"a":-0.87,"b":-0.87},{"t":47.89,"a":-1.23,"b":-1.23},
      {"t":47.97,"a":-1.59,"b":-1.59},{"t":48.05,"a":-1.75,"b":-1.80},{"t":48.12,"a":-1.59,"b":-1.62},{"t":48.17,"a":-0.87,"b":-0.87},
      {"t":48.20,"a":0.20,"b":0.20},{"t":48.23,"a":1.27,"b":1.27},{"t":48.27,"a":1.99,"b":1.99},{"t":48.32,"a":2.07,"b":2.07},
      {"t":48.38,"a":1.63,"b":1.63},{"t":48.45,"a":0.74,"b":0.74},{"t":48.53,"a":0.02,"b":0.02},{"t":48.60,"a":-0.51,"b":-0.51},
      {"t":48.68,"a":-0.91,"b":-0.91},{"t":48.77,"a":-1.12,"b":-1.08},{"t":48.84,"a":-0.98,"b":-0.98},{"t":48.88,"a":-0.34,"b":-0.34},
      {"t":48.92,"a":0.56,"b":0.56},{"t":48.97,"a":1.38,"b":1.38},{"t":49.04,"a":1.59,"b":1.59},{"t":49.11,"a":1.45,"b":1.45},
      {"t":49.16,"a":0.74,"b":0.74},{"t":49.23,"a":0.02,"b":0.02},{"t":49.31,"a":-0.51,"b":-0.51},{"t":49.39,"a":-0.98,"b":-0.98},
      {"t":49.46,"a":-1.34,"b":-1.34},{"t":49.56,"a":-1.59,"b":-1.56},{"t":49.64,"a":-1.48,"b":-1.48},{"t":49.68,"a":-0.87,"b":-0.87},
      {"t":49.72,"a":0.02,"b":0.02},{"t":49.75,"a":0.91,"b":0.91},{"t":49.79,"a":1.63,"b":1.63},{"t":49.87,"a":1.90,"b":1.90},
      {"t":49.92,"a":1.45,"b":1.45},{"t":49.95,"a":0.74,"b":0.74}
    ]
  },
  "vconcat": [
    {
      "width": 2976,
      "height": 739,
      "data": {"name": "top"},
      "encoding": {
        "x": {
          "field": "t",
          "type": "quantitative",
          "scale": {"domain": [23.75, 51.2], "nice": false, "zero": false},
          "axis": {"values": [25, 30, 35, 40, 45, 50], "title": "RMS error partial = 0.0006328406833536329"}
        }
      },
      "layer": [
        {
          "mark": {"type": "line", "strokeWidth": 12.5, "strokeJoin": "round", "interpolate": "monotone"},
          "encoding": {
            "y": {"field": "a", "type": "quantitative", "scale": {"domain": [-2.725, 3.325], "nice": false, "zero": false}, "axis": {"values": [-2, 0, 2], "title": null}},
            "color": {"datum": "true output signal", "type": "nominal", "scale": {"domain": ["true output signal", "prediction partial"], "range": ["#1f77b4", "#ff7f0e"]}, "legend": {"title": null}},
            "strokeDash": {"datum": "true output signal", "type": "nominal", "scale": {"domain": ["true output signal", "prediction partial"], "range": [[1, 0], [46.25, 20]]}, "legend": {"title": null}}
          }
        },
        {
          "mark": {"type": "line", "strokeWidth": 12.5, "strokeJoin": "round", "interpolate": "monotone"},
          "encoding": {
            "y": {"field": "b", "type": "quantitative", "scale": {"domain": [-2.725, 3.325], "nice": false, "zero": false}, "axis": {"values": [-2, 0, 2], "title": null}},
            "color": {"datum": "prediction partial", "type": "nominal", "scale": {"domain": ["true output signal", "prediction partial"], "range": ["#1f77b4", "#ff7f0e"]}, "legend": {"title": null}},
            "strokeDash": {"datum": "prediction partial", "type": "nominal", "scale": {"domain": ["true output signal", "prediction partial"], "range": [[1, 0], [46.25, 20]]}, "legend": {"title": null}}
          }
        }
      ]
    },
    {
      "width": 2976,
      "height": 739,
      "data": {"name": "bottom"},
      "encoding": {
        "x": {
          "field": "t",
          "type": "quantitative",
          "scale": {"domain": [23.75, 51.2], "nice": false, "zero": false},
          "axis": {"values": [25, 30, 35, 40, 45, 50], "title": "RMS error partial = 0.0379040709777997"}
        }
      },
      "layer": [
        {
          "mark": {"type": "line", "strokeWidth": 12.5, "strokeJoin": "round", "interpolate": "monotone"},
          "encoding": {
            "y": {"field": "a", "type": "quantitative", "scale": {"domain": [-2.564, 2.804], "nice": false, "zero": false}, "axis": {"values": [-2, 0, 2], "title": null}},
            "color": {"datum": "true output signal", "type": "nominal", "scale": {"domain": ["true output signal", "prediction partial"], "range": ["#1f77b4", "#ff7f0e"]}, "legend": {"title": null}},
            "strokeDash": {"datum": "true output signal", "type": "nominal", "scale": {"domain": ["true output signal", "prediction partial"], "range": [[1, 0], [46.25, 20]]}, "legend": {"title": null}}
          }
        },
        {
          "mark": {"type": "line", "strokeWidth": 12.5, "strokeJoin": "round", "interpolate": "monotone"},
          "encoding": {
            "y": {"field": "b", "type": "quantitative", "scale": {"domain": [-2.564, 2.804], "nice": false, "zero": false}, "axis": {"values": [-2, 0, 2], "title": null}},
            "color": {"datum": "prediction partial", "type": "nominal", "scale": {"domain": ["true output signal", "prediction partial"], "range": ["#1f77b4", "#ff7f0e"]}, "legend": {"title": null}},
            "strokeDash": {"datum": "prediction partial", "type": "nominal", "scale": {"domain": ["true output signal", "prediction partial"], "range": [[1, 0], [46.25, 20]]}, "legend": {"title": null}}
          }
        }
      ]
    }
  ],
  "spacing": 739,
  "bounds": "flush",
  "resolve": {
    "scale": {"color": "independent", "strokeDash": "independent", "x": "independent", "y": "independent"},
    "legend": {"color": "independent", "strokeDash": "independent"}
  },
  "config": {
    "view": {"stroke": "black", "strokeWidth": 6.67, "fill": "white"},
    "axis": {
      "domain": false,
      "grid": false,
      "ticks": true,
      "tickColor": "black",
      "tickWidth": 6.67,
      "tickSize": 29,
      "labelFont": "DejaVu Sans",
      "labelFontSize": 83.3,
      "labelColor": "black",
      "labelPadding": 29,
      "labelFlush": false,
      "labelOverlap": false,
      "titleFont": "DejaVu Sans",
      "titleFontSize": 83.3,
      "titleFontWeight": "normal",
      "titleColor": "black",
      "titlePadding": 16
    },
    "legend": {
      "orient": "top-right",
      "offset": 44,
      "padding": 28,
      "fillColor": "rgba(255,255,255,0.8)",
      "strokeColor": "rgba(204,204,204,0.8)",
      "strokeWidth": 8.3,
      "cornerRadius": 17,
      "labelFont": "DejaVu Sans",
      "labelFontSize": 83.3,
      "labelColor": "black",
      "labelOffset": 54,
      "labelLimit": 2000,
      "symbolType": "stroke",
      "symbolSize": 32000,
      "symbolStrokeWidth": 12.5,
      "clipHeight": 86,
      "rowPadding": 36
    }
  }
}
